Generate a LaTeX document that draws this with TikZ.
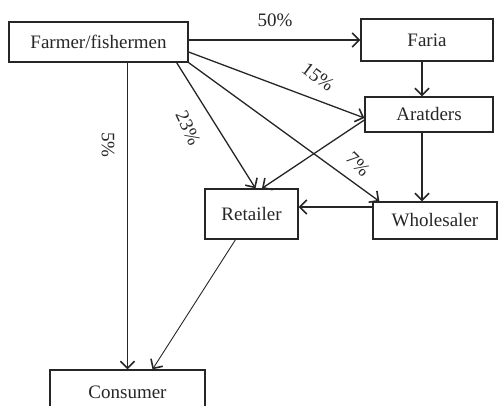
\documentclass[tikz,border=0pt]{standalone}
\usepackage{fontspec}
\setmainfont{Liberation Serif}
\usetikzlibrary{arrows.meta}
\begin{document}
\begin{tikzpicture}[x=1pt,y=1pt,
  box/.style={draw=black!85,line width=1.3pt,fill=white,inner sep=0pt,font=\fontsize{19}{21}\selectfont,text=black!85},
  lbl/.style={font=\fontsize{19}{21}\selectfont,text=black!85,inner sep=0pt},
  conn/.style={draw=black!85,line width=1.3pt,-{Straight Barb[length=7pt,width=14pt,line width=1.6pt]}},
  thin/.style={conn,line width=0.9pt}]
\useasboundingbox (0,0) rectangle (499,-406);
\clip (0,0) rectangle (499,-406);
\node[box,minimum width=179pt,minimum height=40pt] (farmer) at (98.5,-42) {Farmer/fishermen};
\node[box,minimum width=132pt,minimum height=42pt] (faria) at (427,-40) {Faria};
\node[box,minimum width=128pt,minimum height=35pt] (aratders) at (429,-114.5) {Aratders};
\node[box,minimum width=93pt,minimum height=50pt] (retailer) at (251.5,-214) {Retailer};
\node[box,minimum width=124pt,minimum height=37pt] (wholesaler) at (435,-220.5) {Wholesaler};
\node[box,minimum width=155pt,minimum height=44pt] (consumer) at (127.5,-392) {Consumer};
% connectors
\draw[conn] (farmer.east |- faria.west) -- (faria.west);
\draw[conn] ([yshift=-10pt]farmer.east) -- ([yshift=-3.5pt]aratders.west);
\draw[conn] (farmer.south east) -- ([xshift=7pt]wholesaler.north west);
\draw[conn] ([xshift=-12pt]farmer.south east) -- ([xshift=4pt]retailer.north);
\draw[thin] (farmer.south -| consumer.north) -- (consumer.north);
\draw[conn] ([xshift=-5pt]faria.south) -- ([xshift=-7pt]aratders.north);
\draw[conn] ([xshift=-7pt]aratders.south) -- ([xshift=-13pt]wholesaler.north);
\draw[conn] ([yshift=-5.5pt]aratders.west) -- ([xshift=10.5pt]retailer.north);
\draw[conn] ([yshift=13.5pt]wholesaler.west) -- ([yshift=13.5pt]wholesaler.west -| retailer.east);
\draw[thin] ([xshift=-16pt]retailer.south) -- ([xshift=25pt]consumer.north);
% labels
\node[lbl] (l50) at (275,-20) {50\%};
\node[lbl,rotate=-37] (l15) at (318,-77) {15\%};
\node[lbl,rotate=-45] (l7) at (358,-164) {7\%};
\node[lbl,rotate=-65] (l23) at (188,-128) {23\%};
\node[lbl,rotate=-90] (l5) at (108,-145) {5\%};
\end{tikzpicture}
\end{document}
